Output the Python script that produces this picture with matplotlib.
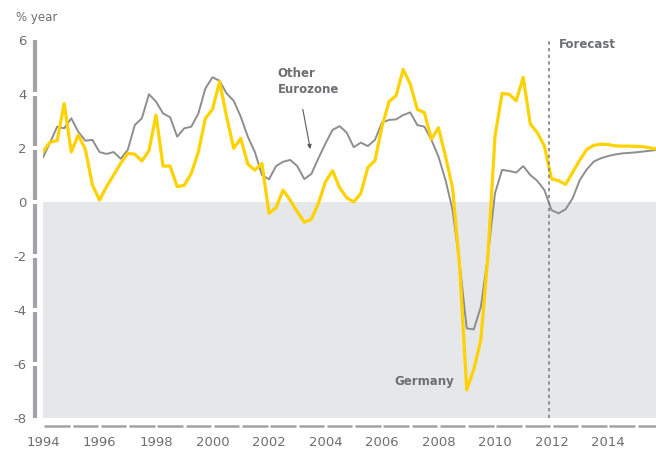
import numpy as np
import matplotlib.pyplot as plt

# ----------------------------
# Data (quarterly, % year on year)
# ----------------------------
start_year = 1994.0
germany = [1.86, 2.22, 2.27, 3.65, 1.85, 2.48, 1.95, 0.63,
           0.07, 0.57, 1.00, 1.43, 1.80, 1.77, 1.52, 1.90,
           3.22, 1.33, 1.33, 0.57, 0.62, 1.06, 1.86, 3.10,
           3.43, 4.46, 3.16, 1.99, 2.36, 1.40, 1.18, 1.43,
           -0.42, -0.21, 0.44, 0.07, -0.36, -0.75, -0.64, -0.05,
           0.75, 1.16, 0.53, 0.16, 0.00, 0.32, 1.28, 1.53,
           2.79, 3.72, 3.94, 4.91, 4.37, 3.43, 3.31, 2.33,
           2.75, 1.68, 0.51, -2.40, -6.96, -6.20, -5.10, -2.00,
           2.42, 4.02, 3.99, 3.75, 4.62, 2.89, 2.57, 2.07,
           0.86, 0.79, 0.65, 1.10, 1.55, 1.95, 2.10, 2.14,
           2.13, 2.08, 2.07, 2.07, 2.06, 2.05, 2.00, 1.96]
other_eurozone = [1.65, 2.20, 2.79, 2.73, 3.10, 2.60, 2.27, 2.30,
                  1.85, 1.78, 1.85, 1.60, 1.93, 2.85, 3.10, 3.99,
                  3.72, 3.28, 3.14, 2.42, 2.73, 2.79, 3.28, 4.21,
                  4.62, 4.49, 4.02, 3.75, 3.16, 2.42, 1.85, 1.00,
                  0.84, 1.33, 1.49, 1.56, 1.33, 0.85, 1.04, 1.62,
                  2.17, 2.67, 2.81, 2.57, 2.03, 2.20, 2.07, 2.30,
                  2.94, 3.04, 3.06, 3.22, 3.32, 2.85, 2.79, 2.30,
                  1.68, 0.81, -0.30, -2.30, -4.68, -4.72, -3.88, -2.00,
                  0.32, 1.19, 1.15, 1.09, 1.33, 1.00, 0.78, 0.44,
                  -0.30, -0.42, -0.27, 0.14, 0.81, 1.21, 1.50, 1.62,
                  1.70, 1.76, 1.80, 1.82, 1.84, 1.87, 1.90, 1.93]
forecast_start = 2011.9
x_ticks = [1994, 1996, 1998, 2000, 2002, 2004, 2006, 2008, 2010, 2012, 2014]
y_ticks = [-8, -6, -4, -2, 0, 2, 4, 6]
y_labels = ["-8", "-6", "-4", "-2", "0", "2", "4", "6"]

t = start_year + 0.25 * np.arange(len(germany))

# ----------------------------
# Style
# ----------------------------
yellow = "#ffd200"
line_gray = "#8e8e90"
text_gray = "#6d6e71"
axis_gray = "#a2a2a4"
shade = "#e6e7e8"

fig = plt.figure(figsize=(6.56, 4.5), dpi=100)
ax = fig.add_axes([43 / 656, 32 / 450, 613 / 656, 378 / 450])
ax.set_xlim(1994, 2015.7)
ax.set_ylim(-8, 6)
for s in ax.spines.values():
    s.set_visible(False)

ax.axhspan(-8, 0, color=shade, zorder=0, lw=0)

ax.plot(t, other_eurozone, color=line_gray, lw=1.4, zorder=3)
ax.plot(t, germany, color=yellow, lw=2.3, zorder=4)

ax.axvline(forecast_start, ymin=0, ymax=(5.95 + 8) / 14, color="#808083",
           lw=1.2, ls=(0, (2, 2)), zorder=5)

# y axis bar with breaks at the ticks
gap = 0.09
for lo, hi in zip(y_ticks[:-1], y_ticks[1:]):
    ax.plot([1993.7, 1993.7], [lo + (gap if lo != -8 else 0), hi - (gap if hi != 6 else 0)],
            color=axis_gray, lw=3, solid_capstyle="butt", clip_on=False)

# x axis segments below the plot
for yr in range(1994, 2016):
    ax.plot([yr + 0.05, yr + 0.95], [-8.3, -8.3], color=axis_gray, lw=1.8,
            solid_capstyle="butt", clip_on=False)

ax.set_xticks(x_ticks)
ax.set_xticklabels([str(x) for x in x_ticks])
ax.set_yticks(y_ticks)
ax.set_yticklabels(y_labels)
ax.tick_params(length=0, colors=text_gray, labelsize=9.5)
ax.tick_params(axis="x", pad=13)
ax.tick_params(axis="y", pad=12)

# annotations
fig.text(16 / 656, 1 - 17 / 450, "% year", color=text_gray, fontsize=8.5, va="center")
ax.text(2012.25, 5.85, "Forecast", color=text_gray, fontsize=8.5,
        fontweight="bold", va="center")
ax.text(2007.5, -6.63, "Germany", color=text_gray, fontsize=8.5,
        fontweight="bold", va="center", ha="center")
ax.text(2002.3, 4.46, "Other\nEurozone", color=text_gray, fontsize=8.5,
        fontweight="bold", va="center", ha="left", linespacing=1.3)
ax.annotate("", xy=(2003.48, 1.86), xytext=(2003.18, 3.53),
            arrowprops=dict(arrowstyle="-|>", color="#58595b", lw=0.8,
                            mutation_scale=6))

plt.savefig("out.png", dpi=100)
